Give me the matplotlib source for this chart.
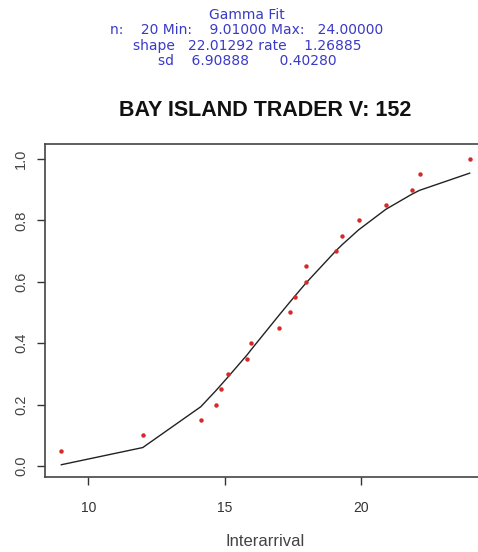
import matplotlib
matplotlib.use("Agg")
import matplotlib.pyplot as plt

# Observed interarrival times and their empirical CDF
interarrival = [9.01, 12.0, 14.13, 14.68, 14.87, 15.12, 15.84, 15.97, 17.01, 17.40,
                17.57, 17.99, 17.99, 19.10, 19.32, 19.92, 20.92, 21.87, 22.16, 24.00]
empirical_cdf = [0.05, 0.10, 0.15, 0.20, 0.25, 0.30, 0.35, 0.40, 0.45, 0.50,
                 0.55, 0.60, 0.65, 0.70, 0.75, 0.80, 0.85, 0.90, 0.95, 1.00]
# Fitted gamma CDF at the same points
fitted_cdf = [0.004, 0.060, 0.193, 0.245, 0.264, 0.289, 0.363, 0.378, 0.492, 0.534,
              0.552, 0.596, 0.596, 0.702, 0.721, 0.769, 0.836, 0.885, 0.898, 0.954]

header_lines = [
    "Gamma Fit",
    "n:    20 Min:    9.01000 Max:   24.00000",
    "shape   22.01292 rate    1.26885",
    "sd    6.90888       0.40280",
]
title = "BAY ISLAND TRADER V: 152"
x_label = "Interarrival"
x_ticks = [10, 15, 20]
y_ticks = [0.0, 0.2, 0.4, 0.6, 0.8, 1.0]

W, H = 478, 552
fig = plt.figure(figsize=(W / 100, H / 100), dpi=100)
fig.patch.set_facecolor("white")

# Axes placed in pixel terms (right edge runs past the figure)
left, right, top, bottom = 45, 486, 144, 477
ax = fig.add_axes([left / W, 1 - bottom / H, (right - left) / W, (bottom - top) / H])

ax.plot(interarrival, fitted_cdf, color="#222222", lw=1.0, zorder=2)
ax.plot(interarrival, empirical_cdf, "o", color="#d42a2a", ms=3.2, mec="none", zorder=3)

ax.set_xlim(8.41, 24.60)
ax.set_ylim(-0.036, 1.049)

ax.set_xticks(x_ticks)
ax.set_xticklabels([str(t) for t in x_ticks])
ax.set_yticks(y_ticks)
ax.set_yticklabels([f"{t:.1f}" for t in y_ticks], rotation=90, va="center")

for s in ax.spines.values():
    s.set_color("#444444")
    s.set_linewidth(1.2)

ax.tick_params(axis="x", length=6, width=1.0, color="#333333", pad=11,
               labelsize=10, labelcolor="#333333")
ax.tick_params(axis="y", length=6, width=1.0, color="#333333", pad=6,
               labelsize=10.5, labelcolor="#444444")
for lbl in ax.get_xticklabels() + ax.get_yticklabels():
    lbl.set_family("Liberation Sans")

fig.text(265 / W, 1 - 541 / H, x_label, ha="center", va="center",
         fontsize=12, color="#444444", family="Liberation Sans")
fig.text(265 / W, 1 - 110 / H, title, ha="center", va="center",
         fontsize=15.5, fontweight="bold", color="#111111", family="Liberation Sans")

header_y = [15, 30.5, 46, 61]
for txt, y in zip(header_lines, header_y):
    fig.text(247 / W, 1 - y / H, txt, ha="center", va="center",
             fontsize=10, color="#3a3ac8", family="DejaVu Sans")

fig.savefig("out.png", dpi=100, facecolor="white")
